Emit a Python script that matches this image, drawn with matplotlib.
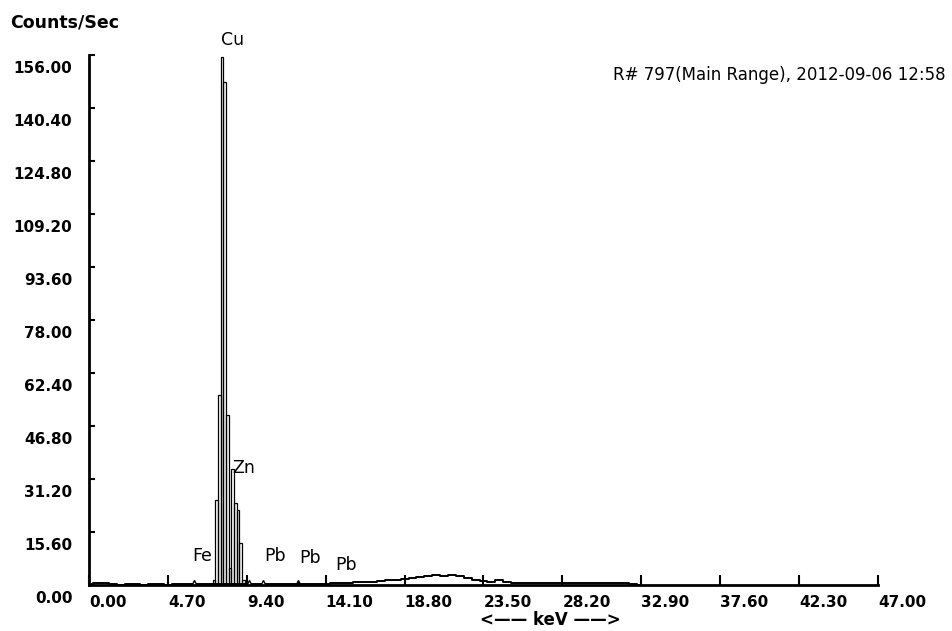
import numpy as np
import matplotlib
matplotlib.use("Agg")
import matplotlib.pyplot as plt
import matplotlib.transforms as mtransforms

# peak channels (keV) and counts
peak_kev = [7.44, 7.60, 7.76, 7.92, 8.08, 8.24, 8.40, 8.56, 8.72, 8.88, 9.04, 9.20]
peak_counts = [1.5, 25.0, 56.0, 155.5, 148.0, 50.0, 5.0, 34.0, 24.0, 22.0, 12.5, 1.5]

# background, one value every 0.47 keV from 0 to 32.9 keV
bg_kev = [round(i * 0.47, 2) for i in range(71)]
bg_counts = [0.2, 0.5, 0.5, 0.3, 0.1, 0.4, 0.2, 0.1, 0.3, 0.2,
             0.1, 0.3, 0.2, 0.3, 0.4, 0.3, 0.4, 0.3, 0.3, 0.4,
             0.3, 0.2, 0.4, 0.3, 0.2, 0.3, 0.2, 0.4, 0.3, 0.3,
             0.4, 0.5, 0.6, 0.6, 0.8, 0.9, 1.0, 1.2, 1.4, 1.6,
             1.8, 2.2, 2.4, 2.6, 2.8, 2.7, 2.9, 2.6, 2.2, 1.6,
             1.2, 0.9, 1.4, 0.8, 0.7, 0.7, 0.6, 0.6, 0.6, 0.6,
             0.7, 0.6, 0.6, 0.5, 0.5, 0.5, 0.5, 0.5, 0.5, 0.4, 0.0]

# KLM line markers
marker_kev = [6.25, 9.55, 10.36]
marker_filled_kev = [12.45]

# element labels: (name, keV, counts)
label_names = ["Cu", "Zn", "Fe", "Pb", "Pb", "Pb"]
label_kev = [8.57, 8.52, 6.75, 11.08, 13.16, 15.3]
label_counts = [160.3, 34.4, 8.5, 8.5, 7.9, 5.9]

xticks = [0.0, 4.7, 9.4, 14.1, 18.8, 23.5, 28.2, 32.9, 37.6, 42.3, 47.0]
yticks = [0.0, 15.6, 31.2, 46.8, 62.4, 78.0, 93.6, 109.2, 124.8, 140.4, 156.0]

plt.rcParams['font.family'] = ['DejaVu Sans']

fig = plt.figure(figsize=(9.52, 6.31), dpi=100)
ax = fig.add_axes([0.0935, 0.0729, 0.8287, 0.840])

# spectrum
ax.step(bg_kev, bg_counts, where='mid', color='black', lw=1.4)
ax.bar(peak_kev, peak_counts, width=0.16, fill=False, edgecolor='black', linewidth=0.9)
ax.plot(marker_kev, [0.6] * len(marker_kev), ls='none', marker='^', ms=5,
        mfc='white', mec='black', mew=1.0)
ax.plot(marker_filled_kev, [0.6], ls='none', marker='^', ms=5, color='black')

for name, kx, ky in zip(label_names, label_kev, label_counts):
    if name == "Zn":
        ax.text(kx, ky, name, ha='left', va='center', fontsize=12.5, clip_on=False)
    else:
        ax.text(kx, ky, name, ha='center', va='center', fontsize=12.5, clip_on=False)

ax.set_xlim(0, 47)
ax.set_ylim(0, 156)
ax.spines['top'].set_visible(False)
ax.spines['right'].set_visible(False)
ax.spines['left'].set_linewidth(2)
ax.spines['bottom'].set_linewidth(2)

ax.set_xticks(xticks)
ax.set_xticklabels([f"{v:.2f}" for v in xticks], fontweight='bold', fontsize=11, ha='left')
ax.set_yticks(yticks)
ax.set_yticklabels([f"{v:.2f}" for v in yticks], fontweight='bold', fontsize=11)
ax.tick_params(axis='x', direction='in', length=7, width=1.5, pad=7)
ax.tick_params(axis='y', direction='in', length=4, width=1.5, pad=12)

# y labels sit a little below their ticks
shift = mtransforms.ScaledTranslation(0, -12 / 100, fig.dpi_scale_trans)
for lab in ax.get_yticklabels():
    lab.set_transform(lab.get_transform() + shift)

fig.text(0.011, 0.965, "Counts/Sec", fontsize=12.5, fontweight='bold', ha='left', va='center')
fig.text(0.993, 0.881, "R# 797(Main Range), 2012-09-06 12:58", fontsize=12,
         ha='right', va='center')
fig.text(0.578, 0.017, "<\u2014\u2014 keV \u2014\u2014>", fontsize=12, fontweight='bold',
         ha='center', va='center')

fig.savefig("out.png", dpi=100)
